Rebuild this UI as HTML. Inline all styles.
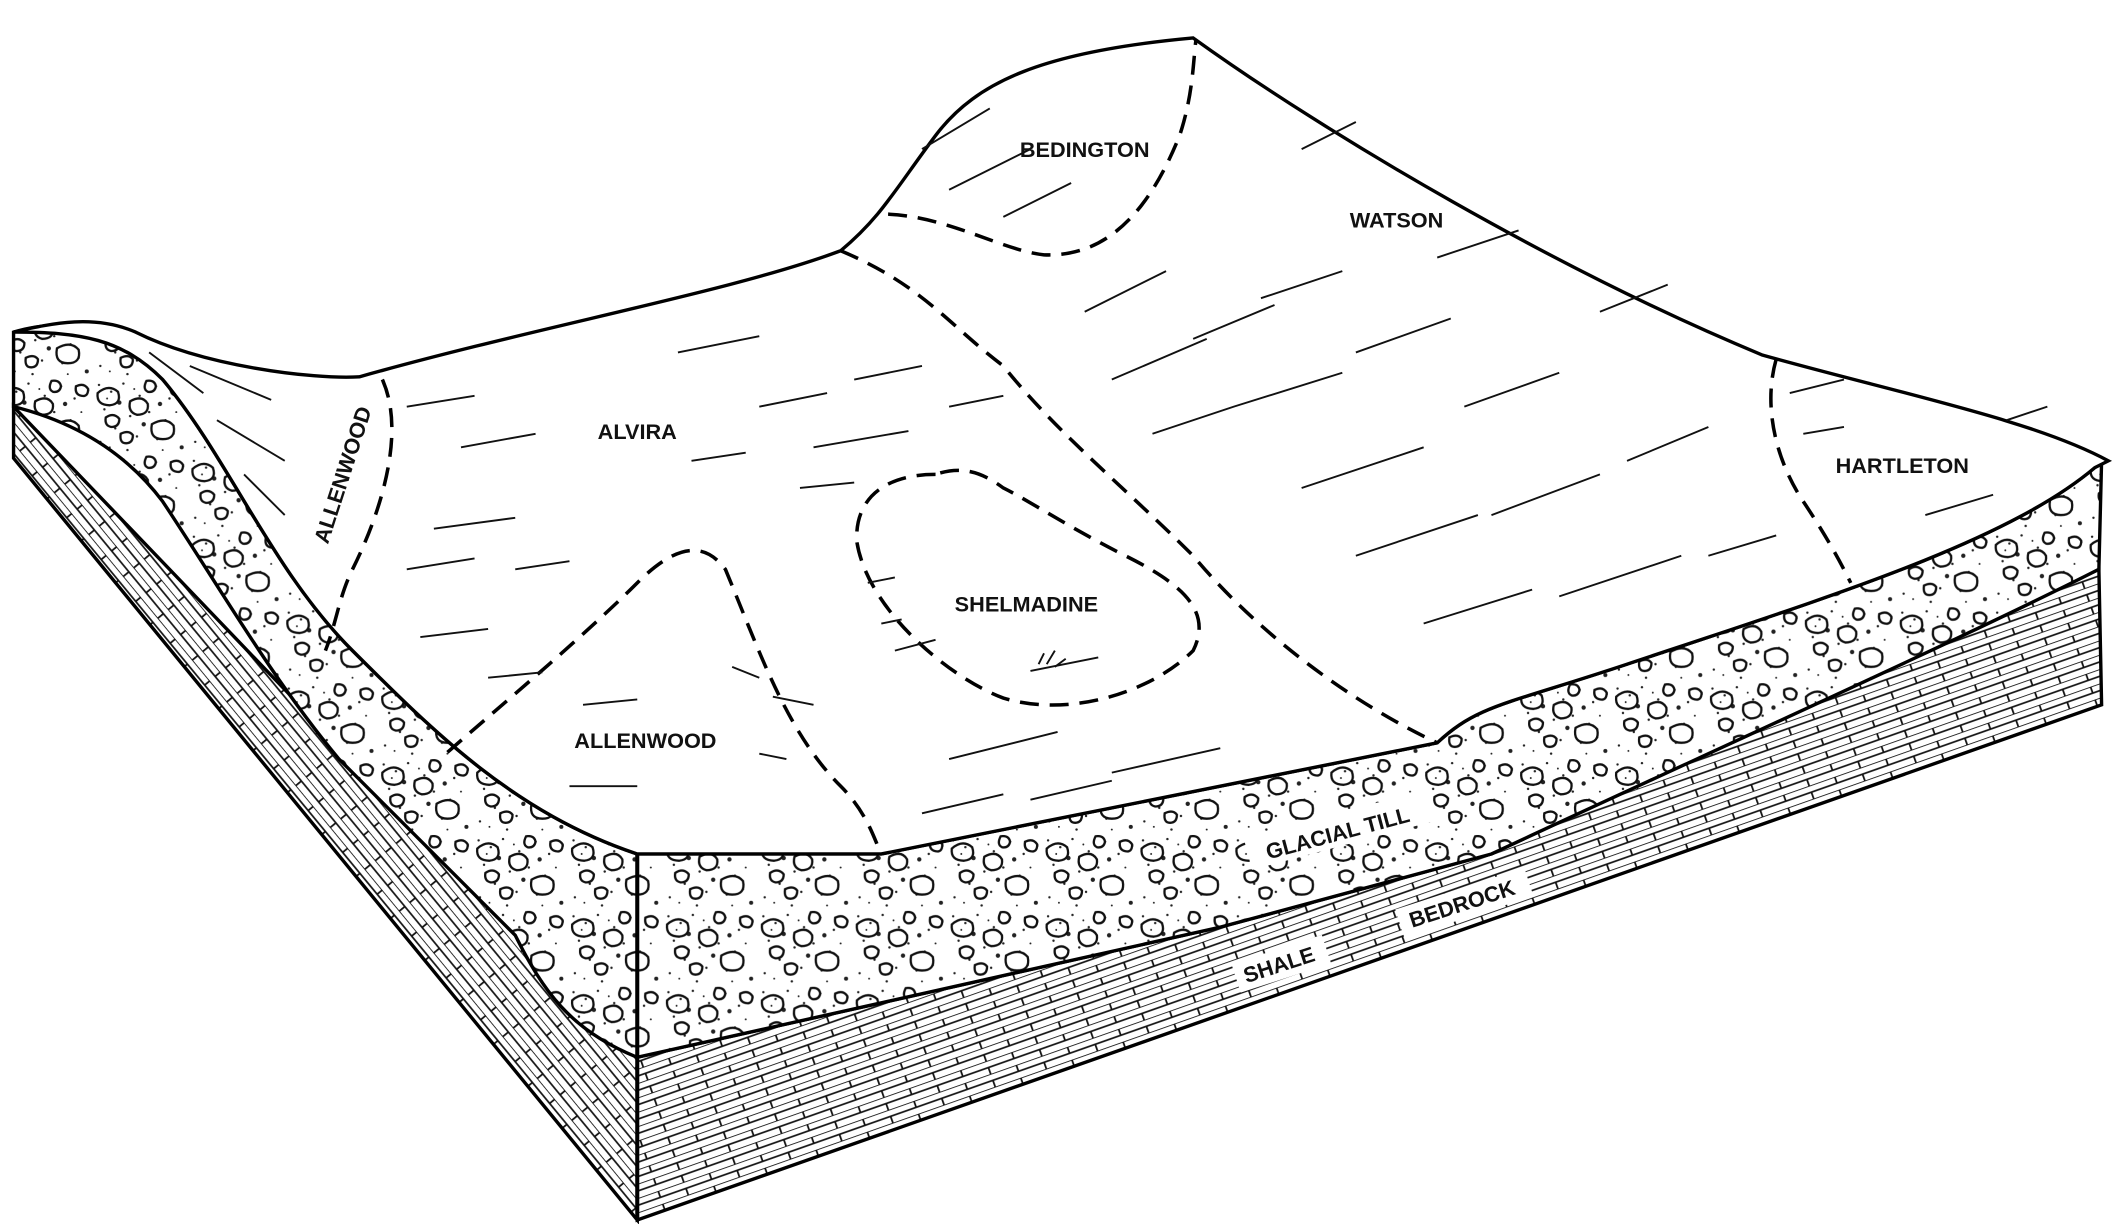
<!DOCTYPE html>
<html><head><meta charset="utf-8"><style>
html,body{margin:0;padding:0;background:#fff;}
svg{display:block;}
text{font-family:"Liberation Sans",sans-serif;font-weight:bold;font-size:16px;fill:#111;}
</style></head><body>
<svg width="2126" height="1224" viewBox="0 0 1568 903" preserveAspectRatio="none" xmlns="http://www.w3.org/2000/svg">
<defs>
<pattern id="till" width="70" height="56" patternUnits="userSpaceOnUse">
<rect width="70" height="56" fill="#fff"/>
<g fill="#222">
<circle cx="3" cy="4" r="0.9"/><circle cx="12" cy="9" r="0.9"/><circle cx="21" cy="3" r="0.9"/><circle cx="33" cy="12" r="0.9"/><circle cx="45" cy="5" r="0.9"/><circle cx="55" cy="14" r="0.9"/><circle cx="7" cy="22" r="0.9"/><circle cx="26" cy="27" r="0.9"/><circle cx="40" cy="24" r="0.9"/><circle cx="52" cy="30" r="0.9"/><circle cx="15" cy="36" r="0.9"/><circle cx="31" cy="42" r="0.9"/><circle cx="46" cy="44" r="0.9"/><circle cx="4" cy="46" r="0.9"/><circle cx="58" cy="40" r="0.9"/><circle cx="18" cy="17" r="1.6"/><circle cx="48" cy="18" r="1.6"/><circle cx="36" cy="33" r="1.6"/><circle cx="65" cy="8" r="0.9"/><circle cx="64" cy="50" r="1.5"/><circle cx="24" cy="52" r="0.9"/>
<circle cx="9" cy="14" r="0.7"/><circle cx="29" cy="7" r="0.7"/><circle cx="60" cy="24" r="0.7"/><circle cx="11" cy="50" r="0.7"/><circle cx="50" cy="52" r="0.7"/>
</g>
<g fill="none" stroke="#111" stroke-width="1.7">
<path d="M2,10 q8,-7 15,-1 q3,9 -6,10 q-10,0 -9,-9z"/>
<path d="M26,16 q9,-5 13,2 q1,8 -8,8 q-7,-2 -5,-10z"/>
<path d="M42,33 q10,-6 16,1 q2,10 -8,10 q-10,0 -8,-11z"/>
<path d="M8,28 q6,-4 10,1 q0,6 -6,6 q-5,-1 -4,-7z"/>
<path d="M19,40 q6,-3 9,1 q0,6 -5,6 q-5,0 -4,-7z"/>
<path d="M38,1 q6,-1 7,4 q-1,5 -6,4 q-4,-2 -1,-8z"/>
<path d="M56,5 q6,-3 9,2 q0,6 -5,5 q-5,-1 -4,-7z"/>
</g>
</pattern>
<pattern id="rock" width="40" height="10" patternUnits="userSpaceOnUse" patternTransform="rotate(-19.4)">
<rect width="40" height="10" fill="#fff"/>
<path d="M0,0H40M0,5H40M6,0V5M26,5V10" stroke="#111" stroke-width="1.3"/>
</pattern>
<pattern id="rockL" width="40" height="10" patternUnits="userSpaceOnUse" patternTransform="rotate(50.5)">
<rect width="40" height="10" fill="#fff"/>
<path d="M0,0H40M0,5H40M6,0V5M26,5V10" stroke="#111" stroke-width="1.3"/>
</pattern>
</defs>
<path d="M10,300 L470,780 L470,900 L10,338 Z" fill="url(#rockL)" stroke="#000" stroke-width="2.5"/>
<path d="M470,780 L900,684 L1100,630 L1548,420 L1550,520 L470,900 Z" fill="url(#rock)" stroke="#000" stroke-width="2.5"/>
<path d="M10,245 C60,230 90,250 120,280 C170,340 200,420 260,480 C320,540 380,600 470,630 L650,630 C800,600 950,570 1060,548 C1090,520 1110,520 1200,490 C1350,440 1480,400 1545,345 L1550,340 L1548,420 C1450,470 1250,560 1100,630 L900,684 L470,780 C420,760 400,730 380,690 C330,640 300,610 250,560 C200,500 160,430 120,370 C90,330 50,310 10,300 Z" fill="url(#till)" stroke="#000" stroke-width="2.5"/>
<line x1="470" y1="630" x2="470" y2="900" stroke="#000" stroke-width="3"/>
<path d="M10,245 C40,238 70,232 100,245 C150,270 230,280 265,278 C400,240 540,215 620,185 C650,160 660,140 690,100 C720,60 770,38 880,28 C980,100 1150,200 1300,262 C1400,290 1500,310 1555,340 L1545,345 C1480,400 1350,440 1200,490 C1110,520 1090,520 1060,548 C950,570 800,600 650,630 L470,630 C380,600 320,540 260,480 C200,420 170,340 120,280 C90,250 60,245 10,245 Z" fill="#fff" stroke="#000" stroke-width="2.5"/>
<g fill="none" stroke="#000" stroke-width="2.6" stroke-dasharray="14,8">
<path d="M282,280 C300,320 280,380 260,420 C250,440 248,460 240,480"/>
<path d="M655,158 C700,160 740,185 770,188 C820,190 850,150 870,100 C880,70 880,45 882,30"/>
<path d="M620,185 C680,210 700,240 740,270 C780,320 830,360 880,410 C930,470 1000,520 1060,548"/>
<path d="M330,555 C370,520 430,470 470,430 C500,400 520,400 535,420 C560,480 580,540 620,580 C640,600 645,620 650,630"/>
<path d="M690,350 C650,350 630,370 632,400 C640,450 700,500 740,515 C790,530 850,510 880,480 C895,450 870,430 830,410 C790,390 760,370 740,360 C720,345 705,345 690,350"/>
<path d="M1310,265 C1300,300 1310,340 1330,370 C1350,400 1360,420 1365,430"/>
</g>
<g stroke="#111" stroke-width="1.4" fill="none">
<path d="M300,300 l50,-8 M340,330 l55,-10 M320,390 l60,-8 M300,420 l50,-8 M310,470 l50,-6 M380,420 l40,-6 M360,500 l40,-4"/>
<path d="M500,260 l60,-12 M560,300 l50,-10 M600,330 l70,-12 M630,280 l50,-10 M590,360 l40,-4 M510,340 l40,-6 M700,300 l40,-8"/>
<path d="M420,580 l50,0 M430,520 l40,-4 M560,500 l-20,-8 M580,560 l-20,-4 M600,520 l-30,-6"/>
<path d="M700,560 l80,-20 M760,590 l60,-14 M820,570 l80,-18 M680,600 l60,-14 M660,480 l30,-8 M640,430 l20,-4 M650,460 l15,-3 M760,495 l50,-10"/>
<path d="M800,230 l60,-30 M820,280 l70,-30 M850,320 l60,-20 M880,250 l60,-25 M910,300 l80,-25 M960,360 l90,-30 M1000,410 l90,-30 M1050,460 l80,-25 M1080,300 l70,-25 M1100,380 l80,-30 M1150,440 l90,-30 M1200,340 l60,-25 M1260,410 l50,-15 M1180,230 l50,-20 M930,220 l60,-20 M1000,260 l70,-25"/>
<path d="M680,110 l50,-30 M700,140 l60,-30 M740,160 l50,-25 M960,110 l40,-20 M1060,190 l60,-20"/>
<path d="M140,270 l60,25 M160,310 l50,30 M180,350 l30,30 M110,260 l40,30"/>
<path d="M1320,290 l40,-10 M1330,320 l30,-5 M1480,310 l30,-10 M1420,380 l50,-15"/>
<path d="M766,490 l4,-8 M772,490 l6,-10 M778,492 l8,-6"/>
</g>
<text x="800" y="116" text-anchor="middle">BEDINGTON</text>
<text x="1030" y="168" text-anchor="middle">WATSON</text>
<text x="470" y="324" text-anchor="middle">ALVIRA</text>
<text x="1403" y="349" text-anchor="middle">HARTLETON</text>
<text x="757" y="451" text-anchor="middle">SHELMADINE</text>
<text x="476" y="552" text-anchor="middle">ALLENWOOD</text>
<text transform="translate(258,352) rotate(-72)" text-anchor="middle">ALLENWOOD</text>
<g>
<rect x="918" y="600" width="142" height="24" fill="#fff" transform="rotate(-15 988 612)"/>
<text transform="translate(988,620) rotate(-15)" text-anchor="middle">GLACIAL TILL</text>
<rect x="910" y="700" width="70" height="22" fill="#fff" transform="rotate(-18 945 711)"/>
<text transform="translate(945,717) rotate(-18)" text-anchor="middle">SHALE</text>
<rect x="1030" y="655" width="100" height="22" fill="#fff" transform="rotate(-18 1080 666)"/>
<text transform="translate(1080,672) rotate(-18)" text-anchor="middle">BEDROCK</text>
</g>
</svg>
</body></html>
